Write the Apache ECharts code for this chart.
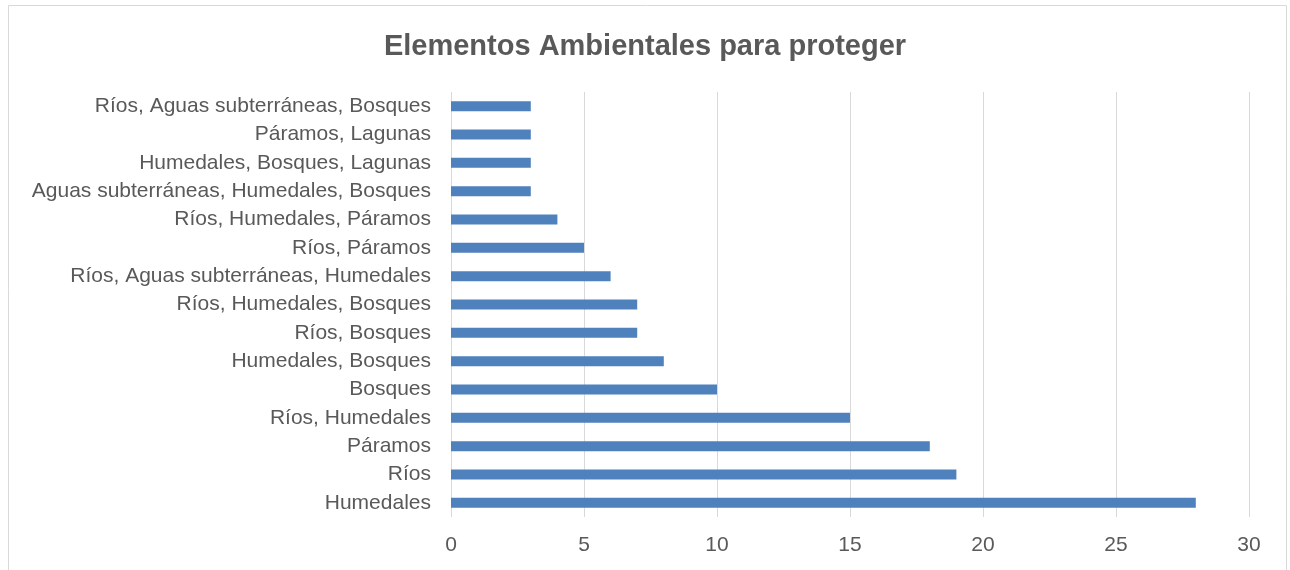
<!DOCTYPE html>
<html>
<head>
<meta charset="utf-8">
<script src="https://cdn.jsdelivr.net/npm/echarts@6/dist/echarts.min.js"></script>
<style>
  html, body { margin: 0; padding: 0; background: #fff; }
  #chart { width: 1290px; height: 570px; }
</style>
</head>
<body>
<div id="chart"></div>
<script>
const categories = [
  'Humedales', 'Ríos', 'Páramos', 'Ríos, Humedales', 'Bosques',
  'Humedales, Bosques', 'Ríos, Bosques', 'Ríos, Humedales, Bosques',
  'Ríos, Aguas subterráneas, Humedales', 'Ríos, Páramos',
  'Ríos, Humedales, Páramos', 'Aguas subterráneas, Humedales, Bosques',
  'Humedales, Bosques, Lagunas', 'Páramos, Lagunas',
  'Ríos, Aguas subterráneas, Bosques',
]
const values = [28, 19, 18, 15, 10, 8, 7, 7, 6, 5, 4, 3, 3, 3, 3]

const textColor = '#595959'
const font = 'Liberation Sans, Arial, sans-serif'

const chart = echarts.init(document.getElementById('chart'))
chart.setOption({
  animation: false,
  title: {
    text: 'Elementos Ambientales para proteger',
    left: 'center',
    top: 27,
    textStyle: { fontFamily: font, fontSize: 29, fontWeight: 'bold', color: textColor },
  },
  graphic: [
    {
      type: 'rect',
      shape: { x: 8.5, y: 5.5, width: 1278, height: 580 },
      style: { fill: 'none', stroke: '#d9d9d9', lineWidth: 1 },
      silent: true,
    },
  ],
  grid: { left: 451, right: 41, top: 92, bottom: 53 },
  xAxis: {
    type: 'value',
    min: 0,
    max: 30,
    interval: 5,
    axisLine: { show: false },
    axisTick: { show: false },
    axisLabel: { fontFamily: font, fontSize: 21, color: textColor, margin: 18 },
    splitLine: { lineStyle: { color: '#d9d9d9', width: 1 } },
  },
  yAxis: {
    type: 'category',
    data: categories,
    axisLine: { show: false },
    axisTick: { show: false },
    axisLabel: { fontFamily: font, fontSize: 21, color: textColor, margin: 20 },
  },
  series: [
    {
      type: 'bar',
      data: values,
      barWidth: 10,
      itemStyle: { color: '#4f81bd' },
    },
  ],
})
</script>
</body>
</html>
